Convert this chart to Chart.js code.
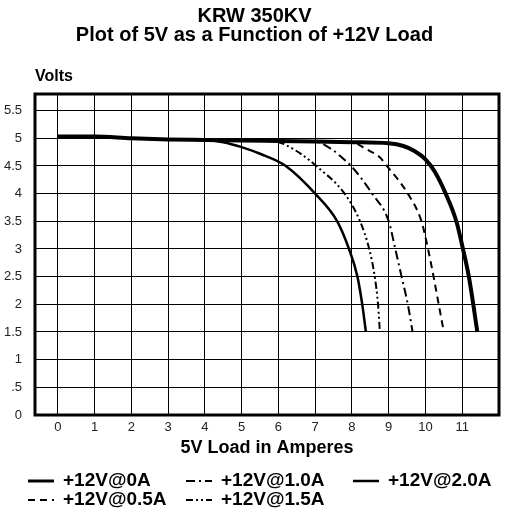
<!DOCTYPE html>
<html>
<head>
<meta charset="utf-8">
<script src="https://cdn.jsdelivr.net/npm/chart.js@4.4.0/dist/chart.umd.min.js"></script>
<style>
html, body { margin: 0; padding: 0; background: #fff; }
canvas { display: block; }
</style>
</head>
<body>
<canvas id="chart" width="509" height="518"></canvas>
<script>
// 5V load (amps) and 5V output (volts) for each +12V load
const load0A = [0, 1, 2, 3, 4, 5, 6, 7, 8, 9, 9.4, 9.7, 10.0, 10.25, 10.55, 10.84, 11.02, 11.18, 11.3, 11.41];
const volts0A = [5.03, 5.03, 5.0, 4.98, 4.97, 4.96, 4.95, 4.94, 4.93, 4.91, 4.86, 4.77, 4.62, 4.4, 4.0, 3.5, 3.0, 2.5, 2.0, 1.5];

const load05A = [0, 1, 2, 3, 4, 5, 6, 7, 8, 8.4, 8.75, 8.95, 9.52, 9.89, 10.07, 10.22, 10.36, 10.5];
const volts05A = [5.03, 5.03, 5.0, 4.98, 4.97, 4.96, 4.95, 4.94, 4.93, 4.8, 4.66, 4.5, 4.0, 3.5, 3.0, 2.5, 2.0, 1.5];

const load1A = [0, 1, 2, 3, 4, 5, 6, 7, 7.45, 7.85, 7.98, 8.55, 9.0, 9.18, 9.35, 9.52, 9.65];
const volts1A = [5.03, 5.03, 5.0, 4.98, 4.97, 4.96, 4.95, 4.94, 4.8, 4.58, 4.5, 4.0, 3.5, 3.0, 2.5, 2.0, 1.5];

const load15A = [0, 1, 2, 3, 4, 5, 6, 6.2, 6.65, 7.03, 7.8, 8.22, 8.47, 8.62, 8.71, 8.76];
const volts15A = [5.03, 5.03, 5.0, 4.98, 4.97, 4.96, 4.93, 4.88, 4.7, 4.5, 4.0, 3.5, 3.0, 2.5, 2.0, 1.5];

const load2A = [0, 1, 2, 3, 4, 4.5, 5, 5.5, 6.2, 7.0, 7.6, 7.92, 8.15, 8.28, 8.38];
const volts2A = [5.03, 5.03, 5.0, 4.98, 4.97, 4.93, 4.84, 4.72, 4.5, 4.0, 3.5, 3.0, 2.5, 2.0, 1.5];

const seriesNames = ['+12V@0A', '+12V@0.5A', '+12V@1.0A', '+12V@1.5A', '+12V@2.0A'];

// tick labels
const xTicks = [0, 1, 2, 3, 4, 5, 6, 7, 8, 9, 10, 11];
const yTicks = [0, 0.5, 1, 1.5, 2, 2.5, 3, 3.5, 4, 4.5, 5, 5.5];
const yTickLabels = ['0', '.5', '1', '1.5', '2', '2.5', '3', '3.5', '4', '4.5', '5', '5.5'];

function toPoints(xs, ys) {
    return xs.map((x, i) => ({ x: x, y: ys[i] }));
}

const FONT = "'Liberation Sans', Arial, sans-serif";

// legend drawn in columns like the original
const legendSlots = [[28, 481], [28, 500], [186, 481], [186, 500], [353, 481]];

const extrasPlugin = {
    id: 'extras',
    afterDraw(chart) {
        const ctx = chart.ctx;
        const area = chart.chartArea;
        ctx.save();
        // heavy frame round the plot
        ctx.strokeStyle = '#000';
        ctx.lineWidth = 3;
        ctx.strokeRect(area.left, area.top, area.right - area.left, area.bottom - area.top);

        // "Volts" axis caption
        ctx.fillStyle = '#000';
        ctx.font = 'bold 16px ' + FONT;
        ctx.textBaseline = 'middle';
        ctx.textAlign = 'left';
        ctx.fillText('Volts', 35, 77);

        // legend
        ctx.font = 'bold 19px ' + FONT;
        chart.data.datasets.forEach((ds, i) => {
            const [lx, ly] = legendSlots[i];
            ctx.beginPath();
            ctx.setLineDash(ds.borderDash || []);
            ctx.lineWidth = Math.min(ds.borderWidth, 3);
            ctx.moveTo(lx, ly);
            ctx.lineTo(lx + 26, ly);
            ctx.stroke();
            ctx.setLineDash([]);
            ctx.fillText(ds.label, lx + 35, ly);
        });
        ctx.restore();
    }
};

new Chart(document.getElementById('chart'), {
    type: 'line',
    data: {
        datasets: [
            { label: seriesNames[0], data: toPoints(load0A, volts0A), borderWidth: 4, borderDash: [] },
            { label: seriesNames[1], data: toPoints(load05A, volts05A), borderWidth: 2, borderDash: [7, 5] },
            { label: seriesNames[2], data: toPoints(load1A, volts1A), borderWidth: 2, borderDash: [9, 4, 2, 4] },
            { label: seriesNames[3], data: toPoints(load15A, volts15A), borderWidth: 2, borderDash: [7, 3, 2, 3, 2, 3] },
            { label: seriesNames[4], data: toPoints(load2A, volts2A), borderWidth: 2.5, borderDash: [] }
        ].map(ds => Object.assign(ds, {
            borderColor: '#000',
            backgroundColor: '#000',
            pointRadius: 0,
            fill: false,
            cubicInterpolationMode: 'monotone'
        }))
    },
    options: {
        responsive: false,
        animation: false,
        layout: { padding: { left: 0, right: 0, top: 0, bottom: 0 } },
        plugins: {
            legend: { display: false },
            tooltip: { enabled: false },
            title: {
                display: true,
                text: ['KRW 350KV', 'Plot of 5V as a Function of +12V Load'],
                color: '#000',
                font: { family: FONT, size: 20, weight: 'bold', lineHeight: 0.95 },
                padding: { top: 7, bottom: 49 }
            }
        },
        scales: {
            x: {
                type: 'linear',
                min: -0.62,
                max: 12,
                afterBuildTicks: s => { s.ticks = xTicks.map(v => ({ value: v })); },
                afterFit: s => { s.height = 103; },
                grid: { color: '#000', lineWidth: 1, drawTicks: false },
                border: { display: false },
                ticks: { color: '#222', font: { family: FONT, size: 13 }, padding: 5 },
                title: {
                    display: true,
                    text: '5V Load in Amperes',
                    color: '#000',
                    font: { family: FONT, size: 18, weight: 'bold', lineHeight: 1.2 },
                    padding: { top: 0, bottom: 59 }
                }
            },
            y: {
                min: 0,
                max: 5.8,
                afterBuildTicks: s => { s.ticks = yTicks.map(v => ({ value: v })); },
                afterFit: s => { s.width = 35; },
                grid: { color: '#000', lineWidth: 1, drawTicks: false },
                border: { display: false },
                ticks: {
                    color: '#222',
                    font: { family: FONT, size: 13 },
                    padding: 13,
                    callback: (v, i) => yTickLabels[i]
                }
            },
            // empty strip on the right, keeps the frame off the edge
            yRight: {
                position: 'right',
                display: true,
                afterFit: s => { s.width = 10; },
                grid: { display: false },
                border: { display: false },
                ticks: { display: false }
            }
        }
    },
    plugins: [extrasPlugin]
});
</script>
</body>
</html>
